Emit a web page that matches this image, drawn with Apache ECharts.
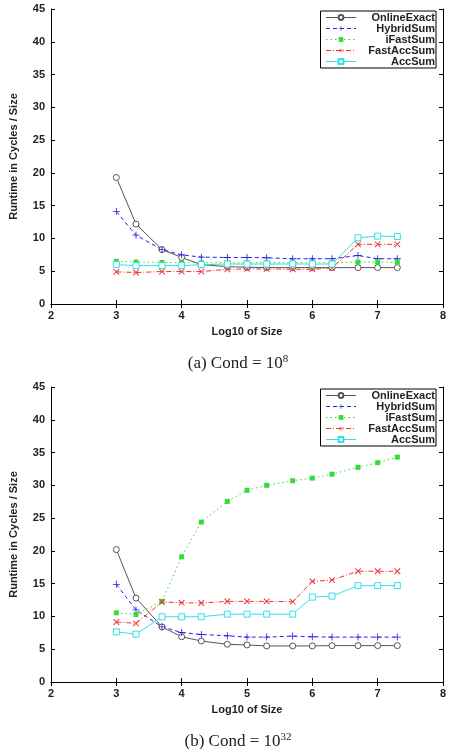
<!DOCTYPE html>
<html>
<head>
<meta charset="utf-8">
<script src="https://cdn.jsdelivr.net/npm/echarts@6/dist/echarts.min.js"></script>
<style>
html,body{margin:0;padding:0;background:#fff;}
#main{width:451px;height:749px;}
</style>
</head>
<body>
<div id="main"></div>
<script>
// log10 of problem size
var sizes = [3, 3.301, 3.699, 4, 4.301, 4.699, 5, 5.301, 5.699, 6, 6.301, 6.699, 7, 7.301];

// (a) cond = 1e8
var a_online = [19.3, 12.2, 8.3, 7.1, 6.0, 5.7, 5.6, 5.55, 5.55, 5.55, 5.55, 5.55, 5.55, 5.55];
var a_hybrid = [14.1, 10.5, 8.3, 7.5, 7.15, 7.1, 7.1, 7.05, 6.9, 6.9, 6.9, 7.4, 6.9, 6.9];
var a_ifast  = [6.5, 6.4, 6.35, 6.3, 6.3, 6.3, 6.3, 6.3, 6.3, 6.3, 6.3, 6.4, 6.4, 6.4];
var a_fastacc = [4.9, 4.8, 4.95, 4.95, 4.95, 5.3, 5.35, 5.35, 5.3, 5.3, 5.5, 9.1, 9.1, 9.1];
var a_acc    = [6.0, 5.85, 5.85, 5.85, 6.0, 6.1, 6.1, 6.1, 6.1, 6.1, 6.1, 10.1, 10.35, 10.3];

// (b) cond = 1e32
var b_online = [20.2, 12.8, 8.4, 6.9, 6.25, 5.75, 5.65, 5.5, 5.5, 5.5, 5.55, 5.55, 5.55, 5.55];
var b_hybrid = [14.9, 11.0, 8.4, 7.55, 7.25, 7.05, 6.85, 6.85, 7.0, 6.9, 6.85, 6.85, 6.85, 6.85];
var b_ifast  = [10.55, 10.3, 12.3, 19.1, 24.4, 27.55, 29.25, 30.0, 30.7, 31.1, 31.7, 32.75, 33.45, 34.3];
var b_fastacc = [9.15, 8.95, 12.2, 12.1, 12.05, 12.3, 12.3, 12.3, 12.25, 15.35, 15.55, 16.9, 16.9, 16.9];
var b_acc    = [7.65, 7.3, 9.95, 9.95, 9.95, 10.35, 10.35, 10.35, 10.35, 12.95, 13.1, 14.7, 14.7, 14.7];

var names = ['OnlineExact', 'HybridSum', 'iFastSum', 'FastAccSum', 'AccSum'];
var xTicks = {min: 2, max: 8, interval: 1};
var yTicks = {min: 0, max: 45, interval: 5};

var plusPath = 'path://M4.4,0h1.2v10h-1.2z M0,4.4h10v1.2h-10z';

// fill: null -> same as line colour; '#fff' -> hollow marker
var styles = {
    OnlineExact: {color: '#555555', type: 'solid', symbol: 'circle', size: 6, rotate: 0, bw: 1, fill: '#fff'},
    HybridSum:   {color: '#2222ee', type: [4, 3], symbol: plusPath, size: 7, rotate: 0, bw: 0, fill: null},
    iFastSum:    {color: '#33dd33', type: [1.5, 3], symbol: 'rect', size: 5, rotate: 0, bw: 0, fill: null},
    FastAccSum:  {color: '#ee3333', type: [5, 2, 1, 2], symbol: plusPath, size: 8, rotate: 45, bw: 0, fill: null},
    AccSum:      {color: '#33e0e8', type: 'solid', symbol: 'rect', size: 6, rotate: 0, bw: 1, fill: '#fff'}
};

function pairs(arr){
    var out = [];
    for (var i = 0; i < sizes.length; i++) out.push([sizes[i], arr[i]]);
    return out;
}

function makeSeries(name, values, gi){
    var s = styles[name];
    return {
        name: name,
        type: 'line',
        xAxisIndex: gi * 2,
        yAxisIndex: gi * 2,
        data: pairs(values),
        symbol: s.symbol,
        symbolSize: s.size,
        symbolRotate: s.rotate,
        showAllSymbol: true,
        lineStyle: {color: s.color, width: 1, type: s.type},
        itemStyle: {color: s.fill || s.color, borderColor: s.color, borderWidth: s.bw},
        emphasis: {disabled: true},
        animation: false
    };
}

var tickFont = {fontFamily: 'Liberation Sans', fontWeight: 'bold', fontSize: 11, color: '#222'};

function xAxes(gi){
    return [{
        gridIndex: gi, type: 'value', min: xTicks.min, max: xTicks.max, interval: xTicks.interval,
        name: 'Log10 of Size', nameLocation: 'middle', nameGap: 22,
        nameTextStyle: tickFont,
        axisLine: {lineStyle: {color: '#000', width: 1}},
        axisTick: {inside: true, length: 4, lineStyle: {color: '#000'}},
        axisLabel: Object.assign({margin: 6}, tickFont),
        splitLine: {show: false}
    }, {
        gridIndex: gi, type: 'value', position: 'top', min: xTicks.min, max: xTicks.max, interval: xTicks.interval,
        axisLine: {lineStyle: {color: '#000', width: 1}},
        axisTick: {inside: true, length: 4, lineStyle: {color: '#000'}},
        axisLabel: {show: false},
        splitLine: {show: false}
    }];
}

function yAxes(gi){
    return [{
        gridIndex: gi, type: 'value', min: yTicks.min, max: yTicks.max, interval: yTicks.interval,
        name: 'Runtime in Cycles / Size', nameLocation: 'middle', nameGap: 32,
        nameTextStyle: tickFont,
        axisLine: {show: true, lineStyle: {color: '#000', width: 1}},
        axisTick: {show: true, inside: true, length: 4, lineStyle: {color: '#000'}},
        axisLabel: Object.assign({margin: 6}, tickFont),
        splitLine: {show: false}
    }, {
        gridIndex: gi, type: 'value', position: 'right', min: yTicks.min, max: yTicks.max, interval: yTicks.interval,
        axisLine: {show: true, lineStyle: {color: '#000', width: 1}},
        axisTick: {show: true, inside: true, length: 4, lineStyle: {color: '#000'}},
        axisLabel: {show: false},
        splitLine: {show: false}
    }];
}

function legendFor(top){
    return {
        top: top, right: 15,
        orient: 'vertical',
        itemWidth: 30, itemHeight: 6, itemGap: 0,
        padding: [1, 1, 1, 5],
        borderColor: '#000', borderWidth: 1,
        backgroundColor: '#fff',
        selectedMode: false,
        lineStyle: {width: 1},
        data: names,
        formatter: function(n){ return '{n|' + n + '}'; },
        textStyle: {
            rich: {n: {width: 74, height: 11, lineHeight: 11, align: 'right', fontFamily: 'Liberation Sans', fontWeight: 'bold', fontSize: 11, color: '#222'}}
        }
    };
}

var seriesA = [
    makeSeries('OnlineExact', a_online, 0),
    makeSeries('HybridSum', a_hybrid, 0),
    makeSeries('iFastSum', a_ifast, 0),
    makeSeries('FastAccSum', a_fastacc, 0),
    makeSeries('AccSum', a_acc, 0)
];
var seriesB = [
    makeSeries('OnlineExact', b_online, 1),
    makeSeries('HybridSum', b_hybrid, 1),
    makeSeries('iFastSum', b_ifast, 1),
    makeSeries('FastAccSum', b_fastacc, 1),
    makeSeries('AccSum', b_acc, 1)
];

var captionStyle = {
    fontFamily: 'Liberation Serif', fontSize: 17, fontWeight: 'normal', color: '#222',
    rich: {sup: {fontFamily: 'Liberation Serif', fontSize: 11, verticalAlign: 'top', padding: [0, 0, 9, 0], color: '#222'}}
};

var myChart = echarts.init(document.getElementById('main'));
var option = {
    backgroundColor: '#fff',
    animation: false,
    title: [
        {text: '(a) Cond = 10{sup|8}', left: 233, top: 349, textAlign: 'center', textStyle: captionStyle},
        {text: '(b) Cond = 10{sup|32}', left: 233, top: 727, textAlign: 'center', textStyle: captionStyle}
    ],
    legend: [legendFor(11), legendFor(389)],
    grid: [
        {left: 46, right: 8, top: 9, height: 295},
        {left: 46, right: 8, top: 387, height: 295}
    ],
    xAxis: xAxes(0).concat(xAxes(1)),
    yAxis: yAxes(0).concat(yAxes(1)),
    series: seriesA.concat(seriesB)
};
myChart.setOption(option);
</script>
</body>
</html>
